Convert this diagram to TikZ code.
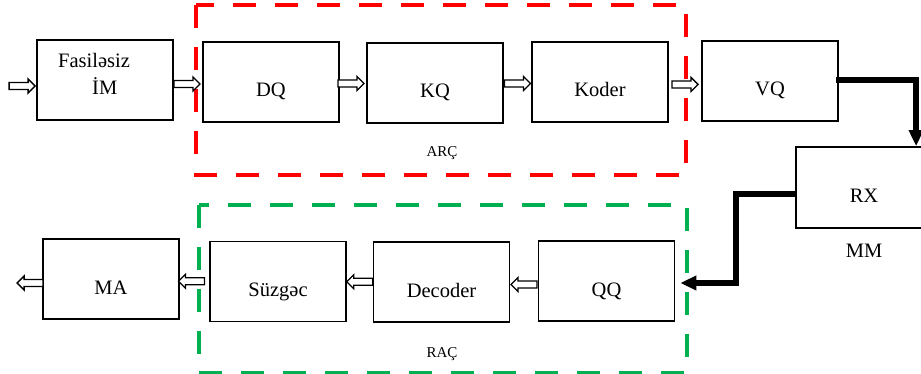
\documentclass[tikz,border=0pt]{standalone}
\usepackage{fontspec}
\setmainfont{Liberation Serif}
\usetikzlibrary{arrows.meta,calc}
\definecolor{dred}{RGB}{255,0,0}
\definecolor{dgreen}{RGB}{0,176,80}
\tikzset{
  box/.style={draw, line width=1.8pt, minimum width=136pt, minimum height=80pt,
    inner sep=0pt, text height=30pt, text depth=0pt, font=\fontsize{20.5}{24}\selectfont},
  plainbox/.style={draw, line width=1.8pt, minimum width=136pt, minimum height=80pt, inner sep=0pt},
  lbl/.style={font=\fontsize{20.5}{24}\selectfont, inner sep=0pt, anchor=base west},
  small/.style={font=\fontsize{15}{18}\selectfont, inner sep=0pt, anchor=base},
  hollowline/.style={draw=black, fill=white, line width=1.4pt, line join=miter},
  harrow/.pic={\draw[hollowline] (-13,-3.5)--(6,-3.5)--(6,-7)--(13,0)--(6,7)--(6,3.5)--(-13,3.5)--cycle;},
  reddash/.style={draw=dred, line width=4.5pt, dash pattern=on 23pt off 19pt},
  greendash/.style={draw=dgreen, line width=4.5pt, dash pattern=on 23pt off 19pt},
  thickconn/.style={draw=black, line width=5.5pt, line join=miter, -{Triangle[length=16pt,width=14pt]}}
}
\begin{document}
\begin{tikzpicture}[x=1pt,y=-1pt]
\useasboundingbox (0,0) rectangle (921,374);
% dashed frames
\draw[reddash] (196,5) rectangle (686,175);
\draw[greendash] (199,205) rectangle (687,373);
% top row
\node[plainbox] (fim) at (105,80) {};
\node[lbl] (fimt1) at (58,68) {Fasiləsiz};
\node[lbl] (fimt2) at (92,95) {İM};
\node[box] (dq) at (271,82) {DQ};
\node[box] (kq) at (435,83) {KQ};
\node[box] (koder) at (600,82) {Koder};
\node[box] (vq) at (770,81) {VQ};
\node[box, minimum height=81pt] (rx) at (864,187.5) {RX};
\node[small, font=\fontsize{20.5}{24}\selectfont] (mm) at (864,258) {MM};
\node[small] (arc) at (442,157) {ARÇ};
% bottom row
\node[box] (ma) at (111,279) {MA};
\node[box] (suz) at (278,281.5) {Süzgəc};
\node[box] (dec) at (441.5,282) {Decoder};
\node[box] (qq) at (606.5,281) {QQ};
\node[small] (rac) at (442,357) {RAÇ};
% hollow arrows
\pic at ($(fim.west)+(-14,6)$) {harrow};
\pic at ($($(fim.east)!0.5!(dq.west)$)+(-1,3)$) {harrow};
\pic at ($($(dq.east)!0.5!(kq.west)$)+(-2,1)$) {harrow};
\pic at ($($(kq.east)!0.5!(koder.west)$)+(0,1)$) {harrow};
\pic at ($($(koder.east)!0.5!(vq.west)$)+(0,3)$) {harrow};
\pic[xscale=-1] at ($($(qq.west)!0.5!(dec.east)$)+(0,3)$) {harrow};
\pic[xscale=-1] at ($($(dec.west)!0.5!(suz.east)$)+(0,0)$) {harrow};
\pic[xscale=-1] at ($($(suz.west)!0.5!(ma.east)$)+(-3,1)$) {harrow};
\pic[xscale=-1] at ($(ma.west)+(-12,4)$) {harrow};
% thick connectors
\coordinate (rxin) at ($(rx.north west)+(121,0)$);
\draw[thickconn] ($(vq.east)+(-3,-1)$) -| (rxin);
\coordinate (qqin) at ($(qq.east)+(5,2)$);
\draw[thickconn] ($(rx.west)+(0,6.5)$) -- ++(-59,0) |- (qqin);
\end{tikzpicture}
\end{document}
